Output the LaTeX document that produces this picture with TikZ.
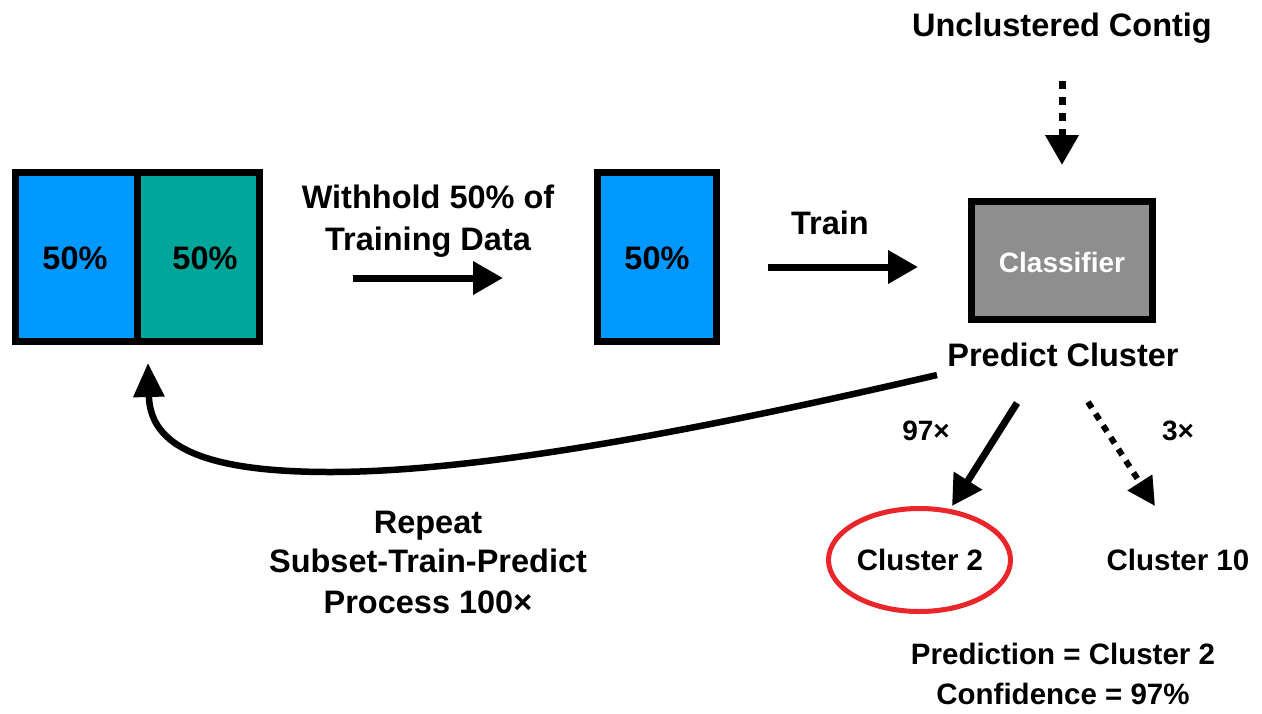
\documentclass[tikz,border=0pt]{standalone}
\usepackage{fontspec}
\setmainfont{Liberation Sans}
\usetikzlibrary{arrows.meta,shapes.geometric}
\definecolor{cblue}{RGB}{0,153,255}
\definecolor{cteal}{RGB}{0,166,153}
\definecolor{cgray}{RGB}{142,142,142}
\definecolor{cred}{RGB}{234,38,42}
\begin{document}
\begin{tikzpicture}[x=1pt,y=-1pt,
  box/.style={draw=black,line width=7pt,inner sep=0pt,anchor=center},
  lbl/.style={font=\bfseries\fontsize{32.5}{40}\selectfont,inner sep=0pt,anchor=base},
  slbl/.style={font=\bfseries\fontsize{29.5}{36}\selectfont,inner sep=0pt,anchor=base},
  arr/.style={line width=7pt,-{Triangle[length=30pt,width=32pt]}},
  dotarr/.style={line width=7pt,dash pattern=on 8pt off 8pt,-{Triangle[length=30pt,width=32pt]}}
]
\useasboundingbox[fill=white] (0,0) rectangle (1262,713);

% data boxes
\node[box,fill=cblue,minimum width=122pt,minimum height=169pt] (L1) at (76.5,257) {};
\node[box,fill=cteal,minimum width=122pt,minimum height=169pt] (L2) at (198.5,257) {};
\node[lbl] (t1) at (75,269) {50\%};
\node[lbl] (t2) at (205,269) {50\%};
\node[box,fill=cblue,minimum width=119pt,minimum height=169pt] (M) at (657,257) {};
\node[lbl] (t3) at (657,269) {50\%};

% classifier
\node[box,fill=cgray,minimum width=181pt,minimum height=118pt] (C) at (1062,260.5) {};
\node[slbl,font=\bfseries\fontsize{28}{34}\selectfont,text=white] (ct) at (1062,272) {Classifier};

% labels
\node[lbl] (UC) at (1062,36) {Unclustered Contig};
\node[lbl] (w1) at (428,208) {Withhold 50\% of};
\node[lbl] (w2) at (428,250) {Training Data};
\node[lbl] (tr) at (830,234) {Train};
\node[lbl] (PC) at (1063,366) {Predict Cluster};
\node[slbl,font=\bfseries\fontsize{28}{34}\selectfont] (n97) at (926,440) {97×};
\node[slbl,font=\bfseries\fontsize{28}{34}\selectfont] (n3) at (1178,440) {3×};
\node[slbl] (c10) at (1178,570) {Cluster 10};
\node[ellipse,draw=cred,line width=5pt,minimum width=182pt,minimum height=103pt,inner sep=0pt] (c2) at (919.5,560) {};
\node[slbl] (c2t) at (920,570) {Cluster 2};
\node[slbl] (p1) at (1063,664) {Prediction = Cluster 2};
\node[slbl] (p2) at (1063,704) {Confidence = 97\%};
\node[lbl] (r1) at (428,533) {Repeat};
\node[lbl] (r2) at (428,572) {Subset-Train-Predict};
\node[lbl] (r3) at (428,613) {Process 100×};

% connectors
\draw[arr,shorten <=90pt,shorten >=91pt] ([yshift=-21pt]L2.east) -- ([yshift=-21pt]M.west);
\draw[arr,shorten <=48pt,shorten >=50pt] ([yshift=-10pt]M.east) -- ([yshift=-6.5pt]C.west);
\draw[dotarr,shorten <=38pt,shorten >=33pt] (UC.south) -- (C.north);

\coordinate (s97) at (1017,403);
\coordinate (e97) at (952,506);
\coordinate (s3) at (1088,402);
\coordinate (e3) at (1155,506);
\draw[arr] (s97) -- (e97);
\draw[dotarr,line width=6pt,dash pattern=on 7pt off 7pt,-{Triangle[length=28pt,width=28pt]}] (s3) -- (e3);

\coordinate (rs) at (937,375);
\coordinate (rb) at (330,472);
\coordinate (re) at (148,363);
\draw[line width=6.5pt,-{Triangle[length=34pt,width=30pt]}] (rs) .. controls (700,430) and (480,472) .. (rb) .. controls (190,472) and (150,440) .. (re);
\end{tikzpicture}
\end{document}
